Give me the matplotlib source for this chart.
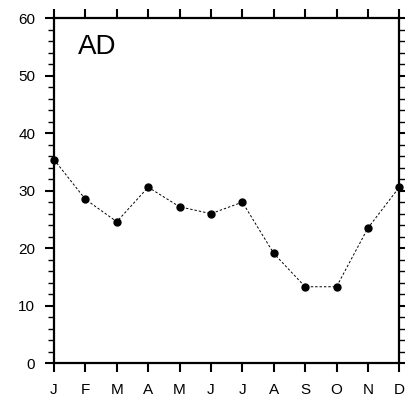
import matplotlib.pyplot as plt
from matplotlib.ticker import MultipleLocator

plt.rcParams['font.family'] = ['Liberation Sans', 'DejaVu Sans']

# monthly values
months = ['J', 'F', 'M', 'A', 'M', 'J', 'J', 'A', 'S', 'O', 'N', 'D']
values = [35.4, 28.5, 24.6, 30.6, 27.2, 26.0, 28.0, 19.1, 13.3, 13.3, 23.5, 30.6]

fig = plt.figure(figsize=(4.05, 3.94), dpi=100)
ax = fig.add_axes([54 / 405, 30.7 / 394, 345.3 / 405, 345.3 / 394])

x = list(range(len(months)))
ax.plot(x, values, color='black', linestyle=(0, (2.5, 2)), linewidth=0.7,
        marker='o', markersize=5, markerfacecolor='black', markeredgecolor='black',
        clip_on=False, zorder=3)

ax.set_xlim(0, 11)
ax.set_ylim(0, 60)
ax.set_xticks(x)
ax.set_xticklabels(months)
ax.yaxis.set_major_locator(MultipleLocator(10))
ax.yaxis.set_minor_locator(MultipleLocator(2))

for s in ax.spines.values():
    s.set_linewidth(1.6)

ax.tick_params(axis='both', which='major', direction='out', length=6.5, width=1.5,
               labelsize=11, pad=7)
ax.tick_params(axis='x', which='major', pad=8)
ax.tick_params(axis='y', which='minor', direction='out', length=4, width=1.0)
ax.tick_params(top=True, right=True, which='both')
ax.tick_params(axis='x', which='minor', top=False, bottom=False)

ax.text(0.07, 0.915, 'AD', transform=ax.transAxes, fontsize=20,
        ha='left', va='center')

fig.savefig('out.png', dpi=100)
